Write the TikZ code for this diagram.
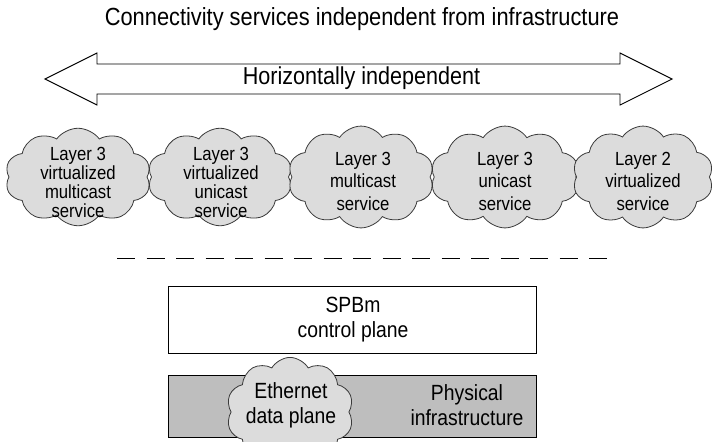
\documentclass[tikz,border=0pt]{standalone}
\usepackage{fontspec}
\setmainfont{Liberation Sans}[FakeStretch=0.88]
\usetikzlibrary{shapes.symbols}
\definecolor{cloudfill}{HTML}{DCDCDC}
\definecolor{physfill}{HTML}{BEBEBE}
\definecolor{lineclr}{HTML}{3A3A3A}
\begin{document}
\begin{tikzpicture}[x=1pt,y=-1pt,
  svc/.style={cloud, cloud puffs=10, cloud puff arc=115, cloud ignores aspect, draw=lineclr, fill=cloudfill,
    line width=0.8pt, inner sep=0pt},
  svctxt/.style={align=center, inner sep=0pt, font=\fontsize{19}{19}\selectfont},
  svctxtb/.style={svctxt, font=\fontsize{19}{22.5}\selectfont},
  layerbox/.style={draw=black, line width=0.9pt, minimum width=368pt},
  lbl/.style={align=center, font=\fontsize{22}{25}\selectfont}]
\useasboundingbox (0,0) rectangle (716,442);
% title
\node[font=\fontsize{24.8}{28}\selectfont] (title) at (362,19) {Connectivity services independent from infrastructure};
% double arrow
\draw[line width=0.9pt, fill=white] (45,79) -- (97,53) -- (97,64) -- (620,64) -- (620,53) -- (672,79)
  -- (620,105) -- (620,94) -- (97,94) -- (97,105) -- cycle;
\node[font=\fontsize{24.5}{28}\selectfont] (horiz) at (361.5,78) {Horizontally independent};
% clouds
\node[svc, minimum width=146pt, minimum height=106pt, yscale=0.92] (c1) at (78,177) {};
\node[svc, minimum width=145pt, minimum height=106pt, yscale=0.92] (c2) at (220,177) {};
\node[svc, minimum width=146pt, minimum height=105pt, yscale=0.97] (c3) at (361,177) {};
\node[svc, minimum width=149pt, minimum height=105pt, yscale=0.97] (c4) at (505,177) {};
\node[svc, minimum width=141pt, minimum height=105pt, yscale=0.97] (c5) at (643,177) {};
\node[svctxt] (t1) at (78,182) {Layer 3\\virtualized\\multicast\\service};
\node[svctxt] (t2) at (221,182) {Layer 3\\virtualized\\unicast\\service};
\node[svctxtb] (t3) at (363,181) {Layer 3\\multicast\\service};
\node[svctxtb] (t4) at (505,181) {Layer 3\\unicast\\service};
\node[svctxtb] (t5) at (643,181) {Layer 2\\virtualized\\service};
% dashed separator
\coordinate (dl) at (117,258);
\coordinate (dr) at (607,258);
\draw[line width=1pt, dash pattern=on 18pt off 11.5pt] (dl) -- (dr);
% SPBm box
\node[layerbox, fill=white, minimum height=67pt] (spbm) at (352,319.5) {};
\node[lbl] (spbmtxt) at (353,320) {SPBm\\control plane};
% physical box
\node[layerbox, fill=physfill, minimum height=62pt, anchor=north] (phys) at (352,375) {};
\node[lbl] (phystxt) at (467,405) {Physical\\infrastructure};
\node[svc, minimum width=127pt, minimum height=104pt, yscale=1.05] (eth) at (290,412) {};
\node[lbl] (ethtxt) at (291,405) {Ethernet\\data plane};
\end{tikzpicture}
\end{document}
